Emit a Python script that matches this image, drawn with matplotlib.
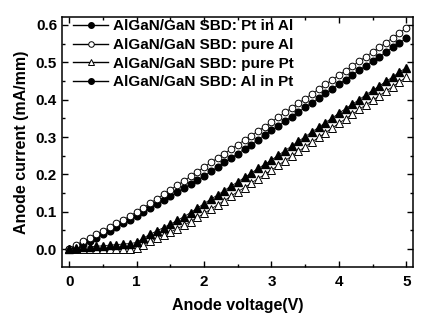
import matplotlib
matplotlib.use("Agg")
import matplotlib.pyplot as plt
from matplotlib.lines import Line2D
from matplotlib.ticker import MultipleLocator

# anode voltage sweep (V)
voltage = [0.0, 0.1, 0.2, 0.3, 0.4, 0.5, 0.6, 0.7, 0.8, 0.9,
           1.0, 1.1, 1.2, 1.3, 1.4, 1.5, 1.6, 1.7, 1.8, 1.9,
           2.0, 2.1, 2.2, 2.3, 2.4, 2.5, 2.6, 2.7, 2.8, 2.9,
           3.0, 3.1, 3.2, 3.3, 3.4, 3.5, 3.6, 3.7, 3.8, 3.9,
           4.0, 4.1, 4.2, 4.3, 4.4, 4.5, 4.6, 4.7, 4.8, 4.9, 5.0]

# anode current (mA/mm)
pt_in_al = [0.000, 0.007, 0.015, 0.023, 0.031, 0.040, 0.049, 0.059, 0.069, 0.079,
            0.090, 0.100, 0.111, 0.121, 0.132, 0.142, 0.153, 0.164, 0.174, 0.185,
            0.196, 0.208, 0.220, 0.232, 0.244, 0.256, 0.268, 0.280, 0.293, 0.306,
            0.318, 0.330, 0.343, 0.355, 0.367, 0.380, 0.392, 0.404, 0.417, 0.429,
            0.442, 0.454, 0.466, 0.479, 0.491, 0.503, 0.515, 0.528, 0.540, 0.552, 0.565]
pure_al = [0.000, 0.012, 0.021, 0.030, 0.040, 0.049, 0.059, 0.069, 0.079, 0.089,
           0.100, 0.111, 0.123, 0.135, 0.147, 0.159, 0.171, 0.183, 0.195, 0.207,
           0.220, 0.232, 0.244, 0.256, 0.268, 0.280, 0.292, 0.304, 0.316, 0.328,
           0.341, 0.353, 0.366, 0.378, 0.391, 0.403, 0.416, 0.428, 0.441, 0.453,
           0.466, 0.478, 0.490, 0.503, 0.515, 0.528, 0.540, 0.553, 0.566, 0.579, 0.592]
pure_pt = [0.000, 0.000, 0.000, 0.000, 0.000, 0.000, 0.000, 0.000, 0.000, 0.001,
           0.003, 0.012, 0.021, 0.030, 0.038, 0.046, 0.055, 0.064, 0.074, 0.085,
           0.096, 0.107, 0.119, 0.130, 0.142, 0.154, 0.165, 0.177, 0.189, 0.200,
           0.212, 0.224, 0.237, 0.249, 0.262, 0.274, 0.287, 0.299, 0.312, 0.324,
           0.337, 0.349, 0.361, 0.374, 0.386, 0.398, 0.411, 0.423, 0.435, 0.448, 0.460]
al_in_pt = [0.000, 0.003, 0.005, 0.006, 0.008, 0.009, 0.011, 0.012, 0.014, 0.015,
            0.018, 0.030, 0.040, 0.049, 0.058, 0.067, 0.077, 0.087, 0.098, 0.110,
            0.122, 0.134, 0.145, 0.157, 0.169, 0.180, 0.192, 0.204, 0.216, 0.227,
            0.239, 0.251, 0.264, 0.276, 0.289, 0.301, 0.314, 0.326, 0.339, 0.351,
            0.364, 0.376, 0.388, 0.400, 0.413, 0.425, 0.437, 0.449, 0.461, 0.474, 0.486]

labels = ["AlGaN/GaN SBD: Pt in Al", "AlGaN/GaN SBD: pure Al",
          "AlGaN/GaN SBD: pure Pt", "AlGaN/GaN SBD: Al in Pt"]

plt.rcParams['font.family'] = ['Liberation Sans', 'DejaVu Sans']
plt.rcParams['font.weight'] = 'bold'

fig = plt.figure(figsize=(4.24, 3.23), dpi=100)
ax = fig.add_axes([0.146, 0.173, 0.828, 0.774])

ms = 4.8
ax.plot(voltage, pt_in_al, color='black', lw=0.6, marker='o', ms=ms, mfc='black', mec='black')
ax.plot(voltage, pure_al, color='black', lw=0.6, marker='o', ms=ms, mfc='white', mec='black', mew=0.7)
ax.plot(voltage, pure_pt, color='black', lw=0.6, marker='^', ms=ms + 0.4, mfc='white', mec='black', mew=0.7)
ax.plot(voltage, al_in_pt, color='black', lw=0.6, marker='^', ms=ms + 0.4, mfc='black', mec='black')

# legend as drawn in the original (last entry uses a filled circle)
handles = [Line2D([], [], color='black', lw=1, marker='o', ms=4, mfc='black'),
           Line2D([], [], color='black', lw=1, marker='o', ms=4, mfc='white', mew=0.7),
           Line2D([], [], color='black', lw=1, marker='^', ms=4.5, mfc='white', mew=0.7),
           Line2D([], [], color='black', lw=1, marker='o', ms=4, mfc='black')]
ax.legend(handles, labels, loc='upper left', frameon=False,
          handlelength=2.3, handletextpad=0.3, labelspacing=0.3,
          borderaxespad=0.0, bbox_to_anchor=(0.015, 1.015),
          prop={'weight': 'bold', 'size': 11})

ax.set_xlim(-0.11, 5.1)
ax.set_ylim(-0.048, 0.621)
ax.xaxis.set_major_locator(MultipleLocator(1))
ax.xaxis.set_minor_locator(MultipleLocator(0.5))
ax.yaxis.set_major_locator(MultipleLocator(0.1))
ax.yaxis.set_minor_locator(MultipleLocator(0.05))
ax.yaxis.set_major_formatter(lambda v, p: f"{v:.1f}")
ax.tick_params(which='both', direction='in', top=True, right=True, width=1)
ax.tick_params(which='major', length=4.5, labelsize=11)
ax.tick_params(which='minor', length=2.5)
ax.tick_params(axis='x', which='major', pad=6)
for s in ax.spines.values():
    s.set_linewidth(1.1)

ax.set_xlabel("Anode voltage(V)", fontsize=11.5, fontweight='bold', labelpad=6)
ax.set_ylabel("Anode current (mA/mm)", fontsize=11.5, fontweight='bold', labelpad=5)

fig.savefig("out.png", dpi=100)
